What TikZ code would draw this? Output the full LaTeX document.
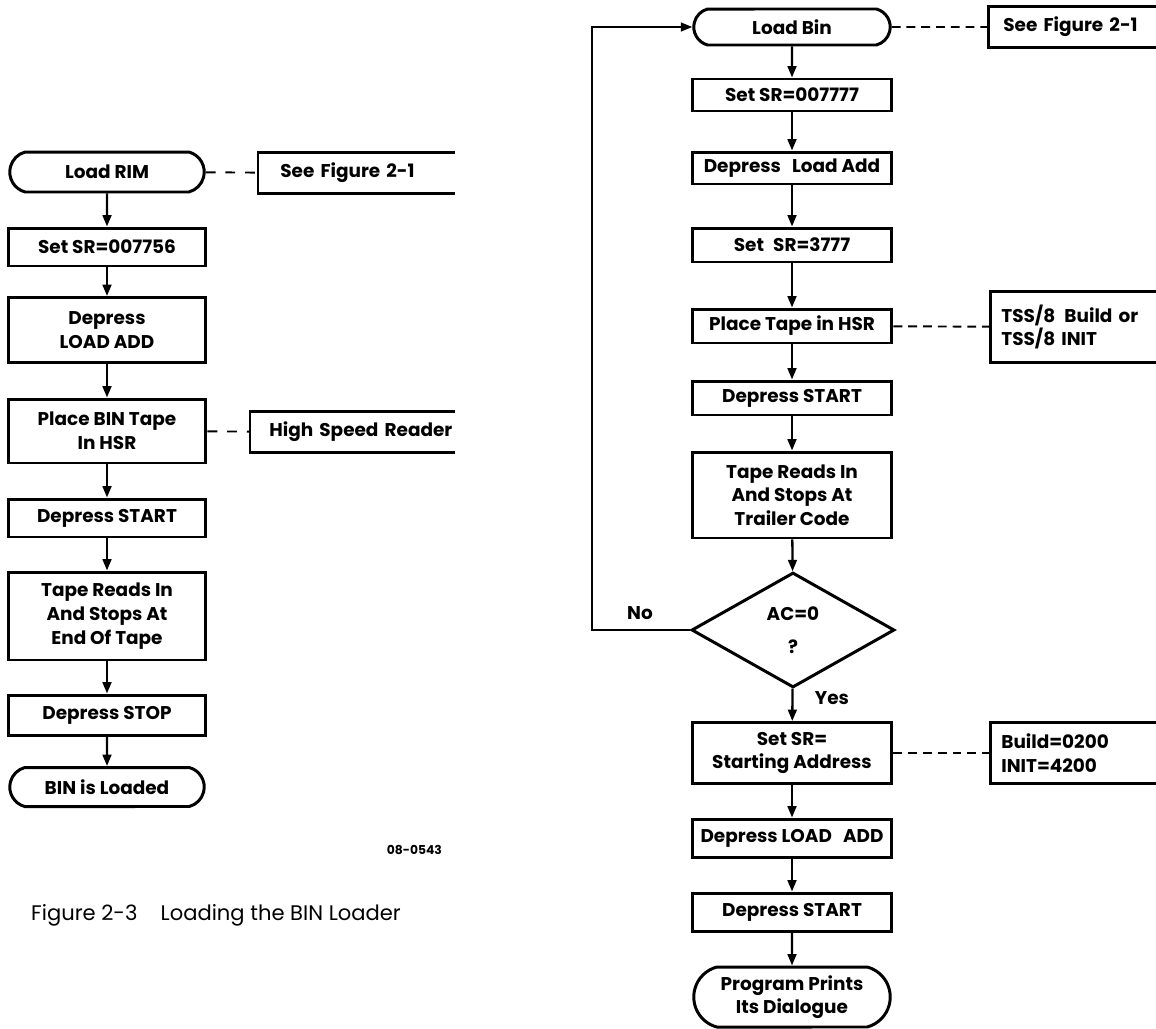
\documentclass[tikz,border=0pt]{standalone}
\usepackage{fontspec}
\setmainfont{Poppins}
\usetikzlibrary{shapes.geometric,shapes.misc,arrows.meta}

\tikzset{
  box/.style={draw, line width=1.7pt, minimum width=3.96cm, inner sep=1pt, align=center,
    font=\bfseries\fontsize{10.5}{13.5}\selectfont},
  term/.style={box, rounded rectangle, rounded rectangle arc length=150},
  decide/.style={box, diamond, minimum width=4.06cm, minimum height=2.3cm, inner sep=0pt},
  note/.style={anchor=west, inner xsep=0.3cm, inner ysep=0pt, text width=3.9cm, align=left,
    font=\bfseries\fontsize{10.5}{13.5}\selectfont},
  frame/.style={line width=1.7pt},
  flow/.style={line width=1.3pt, -{Triangle[length=6.5pt,width=5pt]}},
  link/.style={line width=1.1pt, dash pattern=on 5pt off 3.4pt},
  lbl/.style={font=\bfseries\fontsize{10.5}{12}\selectfont}
}

\begin{document}
\begin{tikzpicture}[x=0.02cm,y=-0.02cm]
\useasboundingbox (0,0) rectangle (1156,1028);

% left chart: loading BIN
\node[term, minimum height=0.8cm] (rim) at (107,172) {Load RIM};
\node[box, minimum height=0.76cm] (srA) at (107,247) {Set SR=007756};
\node[box, minimum height=1.3cm] (addA) at (107,330) {Depress\\LOAD ADD};
\node[box, minimum height=1.28cm] (binA) at (107,431) {Place BIN Tape\\In HSR};
\node[box, minimum height=0.76cm] (startA) at (107,518) {Depress START};
\node[box, minimum height=1.76cm] (readA) at (107,616) {Tape Reads In\\And Stops At\\End Of Tape};
\node[box, minimum height=0.8cm] (stopA) at (107,715) {Depress STOP};
\node[term, minimum height=0.78cm] (doneA) at (107,787) {BIN is Loaded};

\draw[flow] (rim) -- (srA);
\draw[flow] (srA) -- (addA);
\draw[flow] (addA) -- (binA);
\draw[flow] (binA) -- (startA);
\draw[flow] (startA) -- (readA);
\draw[flow] (readA) -- (stopA);
\draw[flow] (stopA) -- (doneA);

% side notes, open on the right
\coordinate (edgeA) at (455,0);
\node[note, minimum height=0.8cm, inner xsep=0.44cm] (figA) at (258,173) {See Figure 2-1};
\node[note, minimum height=0.82cm, inner xsep=0.38cm] (hsrA) at (250,432) {High Speed Reader};
\draw[frame] (figA.north -| edgeA) -- (figA.north west) -- (figA.south west) -- (figA.south -| edgeA);
\draw[frame] (hsrA.north -| edgeA) -- (hsrA.north west) -- (hsrA.south west) -- (hsrA.south -| edgeA);
\draw[link, dash pattern=on 5.6pt off 5.6pt] (rim) -- (figA);
\draw[link, dash pattern=on 5.6pt off 5.6pt] (binA) -- (hsrA);

\node[font=\bfseries\fontsize{7}{8}\selectfont, anchor=east] (figno) at (448,850) {08-0543};
\node[anchor=west, font=\fontsize{12}{14}\selectfont] (caption) at (25,915) {Figure 2-3\hspace{1.1em}Loading the BIN Loader};

% right chart: TSS/8
\node[term, minimum height=0.72cm, minimum width=4cm] (loadbin) at (792,27) {Load Bin};
\node[box, minimum height=0.64cm, minimum width=4cm] (srB) at (792,95) {Set SR=007777};
\node[box, minimum height=0.64cm, minimum width=4cm] (addB) at (792,168) {Depress\hspace{0.6em}Load Add};
\node[box, minimum height=0.68cm, minimum width=4cm] (srC) at (792,245) {Set\hspace{0.5em}SR=3777};
\node[box, minimum height=0.68cm, minimum width=4cm] (tapeB) at (792,326) {Place Tape in HSR};
\node[box, minimum height=0.68cm, minimum width=4cm] (startB) at (792,398) {Depress START};
\node[box, minimum height=1.72cm, minimum width=4cm] (readB) at (792,495) {Tape Reads In\\And Stops At\\Trailer Code};
\node[decide] (test) at (793,630) {AC=0\\[5pt]?};
\node[box, minimum height=1.22cm, minimum width=4cm] (srD) at (792,753) {Set SR=\\Starting Address};
\node[box, minimum height=0.76cm, minimum width=4cm] (addC) at (792,838) {Depress LOAD\hspace{0.6em}ADD};
\node[box, minimum height=0.76cm, minimum width=4cm] (startC) at (792,912) {Depress START};
\node[term, minimum height=1.2cm, minimum width=4cm] (prints) at (792,997) {Program Prints\\Its Dialogue};

\draw[flow] (loadbin) -- (srB);
\draw[flow] (srB) -- (addB);
\draw[flow] (addB) -- (srC);
\draw[flow] (srC) -- (tapeB);
\draw[flow] (tapeB) -- (startB);
\draw[flow] (startB) -- (readB);
\draw[flow] (readB) -- (test);
\draw[flow] (test) -- (srD);
\draw[flow] (srD) -- (addC);
\draw[flow] (addC) -- (startC);
\draw[flow] (startC) -- (prints);

% no: back to the top
\coordinate (loopx) at (592,0);
\draw[flow, line width=1.1pt] (test.west) -- (test.west -| loopx) |- (loadbin.west);
\node[lbl] (no) at (640,613) {No};
\node[lbl] (yes) at (832,698) {Yes};

% side notes
\coordinate (edgeB) at (1156,0);
\node[note, minimum height=0.8cm] (figB) at (988,27) {See Figure 2-1};
\node[note, minimum height=1.4cm, inner xsep=0.22cm] (tss) at (990,327) {TSS/8\hspace{0.5em}Build or\\TSS/8 INIT};
\node[note, minimum height=1.22cm, inner xsep=0.22cm] (build) at (990,753) {Build=0200\\INIT=4200};
\draw[frame] (figB.north -| edgeB) -- (figB.north west) -- (figB.south west) -- (figB.south -| edgeB);
\draw[frame] (tss.north -| edgeB) -- (tss.north west) -- (tss.south west) -- (tss.south -| edgeB);
\draw[frame] (build.north -| edgeB) -- (build.north west) -- (build.south west) -- (build.south -| edgeB);
\draw[link] (loadbin) -- (figB);
\draw[link] (tapeB) -- (tss);
\draw[link] (srD) -- (build);
\end{tikzpicture}
\end{document}
